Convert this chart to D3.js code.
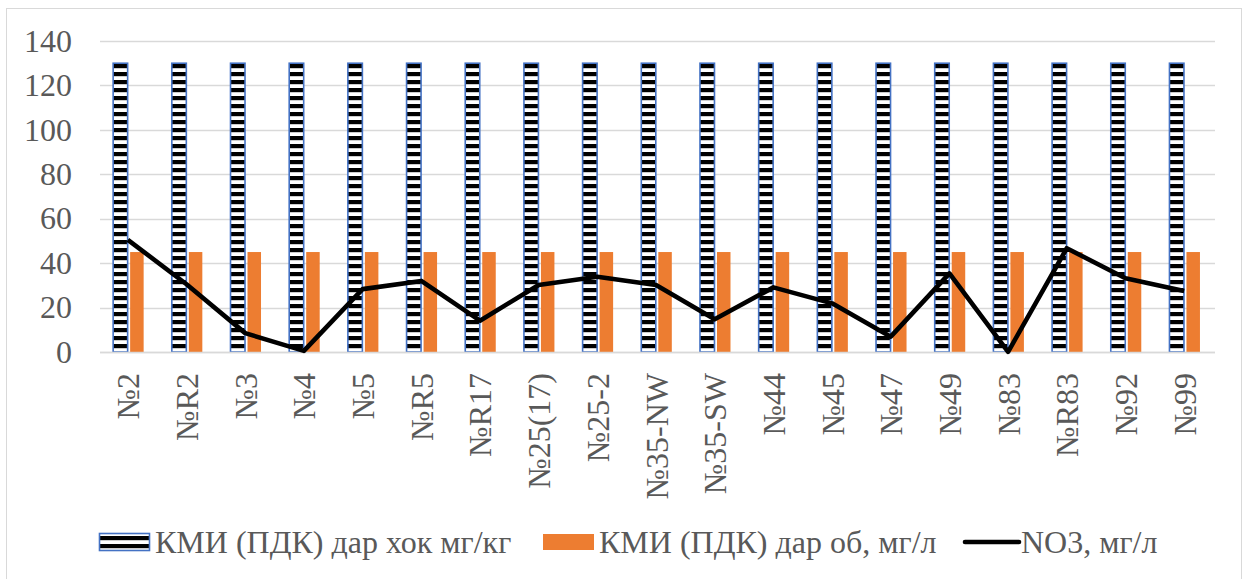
<!DOCTYPE html>
<html>
<head>
<meta charset="utf-8">
<script src="https://cdn.jsdelivr.net/npm/d3@7"></script>
<style>
  html, body { margin: 0; padding: 0; background: #fff; }
  svg { display: block; }
</style>
</head>
<body>
<svg id="chart" width="1246" height="579"></svg>
<script>
// Sampling wells
const categories = ["№2", "№R2", "№3", "№4", "№5", "№R5", "№R17", "№25(17)", "№25-2",
  "№35-NW", "№35-SW", "№44", "№45", "№47", "№49", "№83", "№R83", "№92", "№99"];
// Maximum permissible concentration in soil, mg/kg
const soilLimit = [130, 130, 130, 130, 130, 130, 130, 130, 130, 130, 130, 130, 130, 130, 130, 130, 130, 130, 130];
// Maximum permissible concentration in water, mg/l
const waterLimit = [45, 45, 45, 45, 45, 45, 45, 45, 45, 45, 45, 45, 45, 45, 45, 45, 45, 45, 45];
// Measured nitrate, mg/l
const no3 = [50.5, 30.5, 8.5, 0.5, 28.3, 32, 14.1, 30.2, 33.9, 30.2, 14.7, 29.1, 21.9, 6.9, 35.4, 0.1, 46.7, 33.2, 27.5];
const yTicks = [0, 20, 40, 60, 80, 100, 120, 140];
const legendLabels = ["КМИ (ПДК) дар хок мг/кг", "КМИ (ПДК) дар об, мг/л", "NO3, мг/л"];

const FONT = '"Liberation Serif", "Times New Roman", Times, serif';
const FS = 32;
const TXT = "#595959";

const svg = d3.select("#chart");
const plot = { left: 100, right: 1215, top: 41, bottom: 352 };

// Outer chart frame
svg.append("rect")
  .attr("x", 6.5).attr("y", 8.5)
  .attr("width", 1235).attr("height", 600)
  .attr("fill", "#fff").attr("stroke", "#D9D9D9").attr("stroke-width", 1);

// Horizontal stripe fill for the soil bars
const defs = svg.append("defs");
const pat = defs.append("pattern")
  .attr("id", "stripes")
  .attr("patternUnits", "userSpaceOnUse")
  .attr("width", 8).attr("height", 8);
pat.append("rect").attr("width", 8).attr("height", 8).attr("fill", "#fff");
pat.append("rect").attr("y", 0).attr("width", 8).attr("height", 4.2).attr("fill", "#000");

const x = d3.scaleBand().domain(categories).range([plot.left, plot.right]).padding(0);
const y = d3.scaleLinear().domain([0, 140]).range([plot.bottom, plot.top]);

// Gridlines
svg.append("g")
  .selectAll("line")
  .data(yTicks)
  .join("line")
  .attr("x1", plot.left).attr("x2", plot.right)
  .attr("y1", d => Math.round(y(d)) + 0.5).attr("y2", d => Math.round(y(d)) + 0.5)
  .attr("stroke", "#D9D9D9").attr("stroke-width", 1.3);

// Y axis labels
const yAxis = d3.axisLeft(y).tickValues(yTicks).tickSize(0).tickPadding(0);
const gy = svg.append("g").attr("transform", `translate(${plot.left - 28},0)`).call(yAxis);
gy.select(".domain").remove();
gy.selectAll("text")
  .style("font-family", FONT)
  .style("font-size", FS + "px")
  .attr("fill", TXT);

const cx = d => x(d) + x.bandwidth() / 2;

// Soil limit bars
svg.append("g")
  .selectAll("rect")
  .data(categories.map((c, i) => ({ c, v: soilLimit[i] })))
  .join("rect")
  .attr("x", d => cx(d.c) - 16.2)
  .attr("y", d => y(d.v))
  .attr("width", 14.5)
  .attr("height", d => y(0) - y(d.v))
  .attr("fill", "url(#stripes)")
  .attr("stroke", "#4472C4").attr("stroke-width", 1.6);

// Water limit bars
svg.append("g")
  .selectAll("rect")
  .data(categories.map((c, i) => ({ c, v: waterLimit[i] })))
  .join("rect")
  .attr("x", d => cx(d.c) + 0.8)
  .attr("y", d => y(d.v))
  .attr("width", 13.5)
  .attr("height", d => y(0) - y(d.v))
  .attr("fill", "#ED7D31");

// Category axis line
svg.append("line")
  .attr("x1", plot.left).attr("x2", plot.right)
  .attr("y1", plot.bottom + 0.5).attr("y2", plot.bottom + 0.5)
  .attr("stroke", "#D9D9D9").attr("stroke-width", 1.3);

// Nitrate line
const line = d3.line()
  .x((d, i) => cx(categories[i]) - 1.5)
  .y(d => y(d));
svg.append("path")
  .datum(no3)
  .attr("d", line)
  .attr("fill", "none")
  .attr("stroke", "#000")
  .attr("stroke-width", 4.6)
  .attr("stroke-linejoin", "round");

// Rotated category labels
svg.append("g")
  .selectAll("text")
  .data(categories)
  .join("text")
  .attr("transform", d => `translate(${cx(d) + 10},${plot.bottom + 21}) rotate(-90)`)
  .attr("text-anchor", "end")
  .style("font-family", FONT)
  .style("font-size", FS + "px")
  .attr("fill", TXT)
  .text(d => d);

// Legend
const ly = 542;
const lg = svg.append("g");
lg.append("rect")
  .attr("x", 99.5).attr("y", 533.5).attr("width", 50).attr("height", 17)
  .attr("fill", "url(#stripes)")
  .attr("stroke", "#4472C4").attr("stroke-width", 1.6);
lg.append("rect")
  .attr("x", 543).attr("y", 534).attr("width", 51).attr("height", 16)
  .attr("fill", "#ED7D31");
lg.append("line")
  .attr("x1", 965).attr("x2", 1019).attr("y1", ly).attr("y2", ly)
  .attr("stroke", "#000").attr("stroke-width", 4.6).attr("stroke-linecap", "round");
lg.selectAll("text")
  .data(legendLabels.map((t, i) => ({ t, x: [155, 599, 1021][i] })))
  .join("text")
  .attr("x", d => d.x).attr("y", ly).attr("dy", "0.35em")
  .style("font-family", FONT)
  .style("font-size", FS + "px")
  .attr("fill", TXT)
  .text(d => d.t);
</script>
</body>
</html>
